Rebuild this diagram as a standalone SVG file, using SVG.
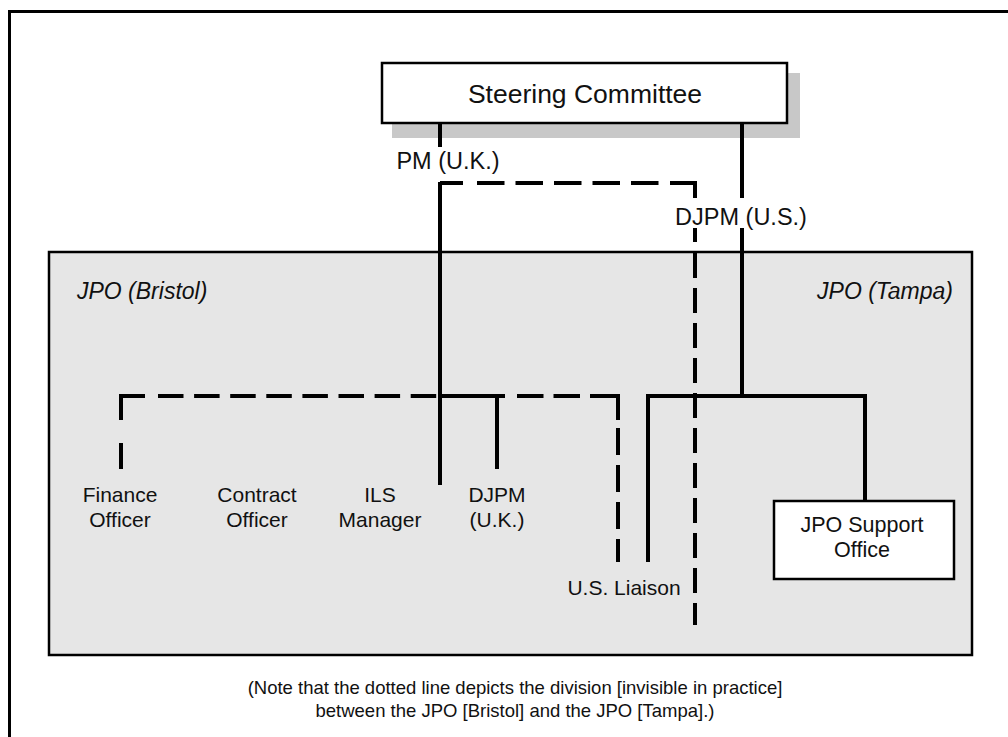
<svg xmlns="http://www.w3.org/2000/svg" width="1008" height="737" viewBox="0 0 1008 737">
  <style>
    text { font-family: "Liberation Sans", Arial, Helvetica, sans-serif; fill: #111; }
    .title { font-size: 26.5px; text-anchor: middle; }
    .lbl { font-size: 23.5px; text-anchor: middle; }
    .area { font-size: 23px; font-style: italic; }
    .pos { font-size: 21px; text-anchor: middle; }
    .note { font-size: 18.5px; text-anchor: middle; }
    .box { fill: #ffffff; stroke: #000; stroke-width: 2.5; }
    .solid { fill: none; stroke: #000; stroke-width: 4; stroke-linecap: butt; stroke-linejoin: miter; }
    .dash { fill: none; stroke: #000; stroke-width: 4; stroke-linecap: butt; stroke-linejoin: miter; }
  </style>
  <rect x="0" y="0" width="1008" height="737" fill="#ffffff"/>
  <g id="frame">
    <path d="M9.5,737 V11.5 H1008" fill="none" stroke="#000" stroke-width="3"/>
  </g>
  <g id="jpo-area">
    <rect x="49" y="252" width="923" height="403" fill="#e6e6e6" stroke="#000" stroke-width="2.5"/>
    <text class="area" x="77" y="299">JPO (Bristol)</text>
    <text class="area" x="953" y="299" text-anchor="end">JPO (Tampa)</text>
  </g>
  <g id="steering-committee">
    <rect x="392" y="73" width="408" height="65" fill="#c8c8c8"/>
    <rect class="box" x="382" y="63" width="405" height="60"/>
    <text class="title" x="585" y="103">Steering Committee</text>
  </g>
  <g id="connectors">
    <!-- PM (U.K.) solid line -->
    <path class="solid" d="M440,123 V147"/>
    <path class="solid" d="M440,182 V485"/>
    <path class="solid" d="M440,396 H505"/>
    <path class="solid" d="M497,396 V469"/>
    <!-- DJPM (U.S.) solid line -->
    <path class="solid" d="M742,123 V198"/>
    <path class="solid" d="M742,228 V396"/>
    <path class="solid" d="M648,562 V396 H865 V500"/>
    <!-- top dashed line (division) -->
    <path class="solid" d="M440,183 H463"/>
    <path class="dash" d="M477,183 H660" stroke-dasharray="27.5 11"/>
    <path class="solid" d="M670,183 H695 V198"/>
    <path class="solid" d="M695,228 V242"/>
    <path class="dash" d="M695,253 V625" stroke-dasharray="25 10"/>
    <!-- Bristol dashed line -->
    <path class="solid" d="M121,469 V443"/>
    <path class="solid" d="M121,420 V396 H145"/>
    <path class="dash" d="M158,396 H440" stroke-dasharray="25.5 10.6"/>
    <path class="dash" d="M517,396 H580" stroke-dasharray="26.5 10"/>
    <path class="solid" d="M590,396 H618 V420"/>
    <path class="dash" d="M618,428 V562" stroke-dasharray="27 10"/>
  </g>
  <g id="pm-uk">
    <text class="lbl" x="448" y="169">PM (U.K.)</text>
  </g>
  <g id="djpm-us">
    <text class="lbl" x="741" y="225">DJPM (U.S.)</text>
  </g>
  <g id="finance-officer">
    <text class="pos" x="120" y="502">Finance</text>
    <text class="pos" x="120" y="527">Officer</text>
  </g>
  <g id="contract-officer">
    <text class="pos" x="257" y="502">Contract</text>
    <text class="pos" x="257" y="527">Officer</text>
  </g>
  <g id="ils-manager">
    <text class="pos" x="380" y="502">ILS</text>
    <text class="pos" x="380" y="527">Manager</text>
  </g>
  <g id="djpm-uk">
    <text class="pos" x="497" y="502">DJPM</text>
    <text class="pos" x="497" y="527">(U.K.)</text>
  </g>
  <g id="us-liaison">
    <text class="pos" x="624" y="595">U.S. Liaison</text>
  </g>
  <g id="jpo-support-office">
    <rect class="box" x="774" y="501" width="180" height="78"/>
    <text class="pos" x="862" y="532" style="font-size:21.5px">JPO Support</text>
    <text class="pos" x="862" y="557" style="font-size:21.5px">Office</text>
  </g>
  <g id="note">
    <text class="note" x="515" y="694">(Note that the dotted line depicts the division [invisible in practice]</text>
    <text class="note" x="515" y="717">between the JPO [Bristol] and the JPO [Tampa].)</text>
  </g>
</svg>
